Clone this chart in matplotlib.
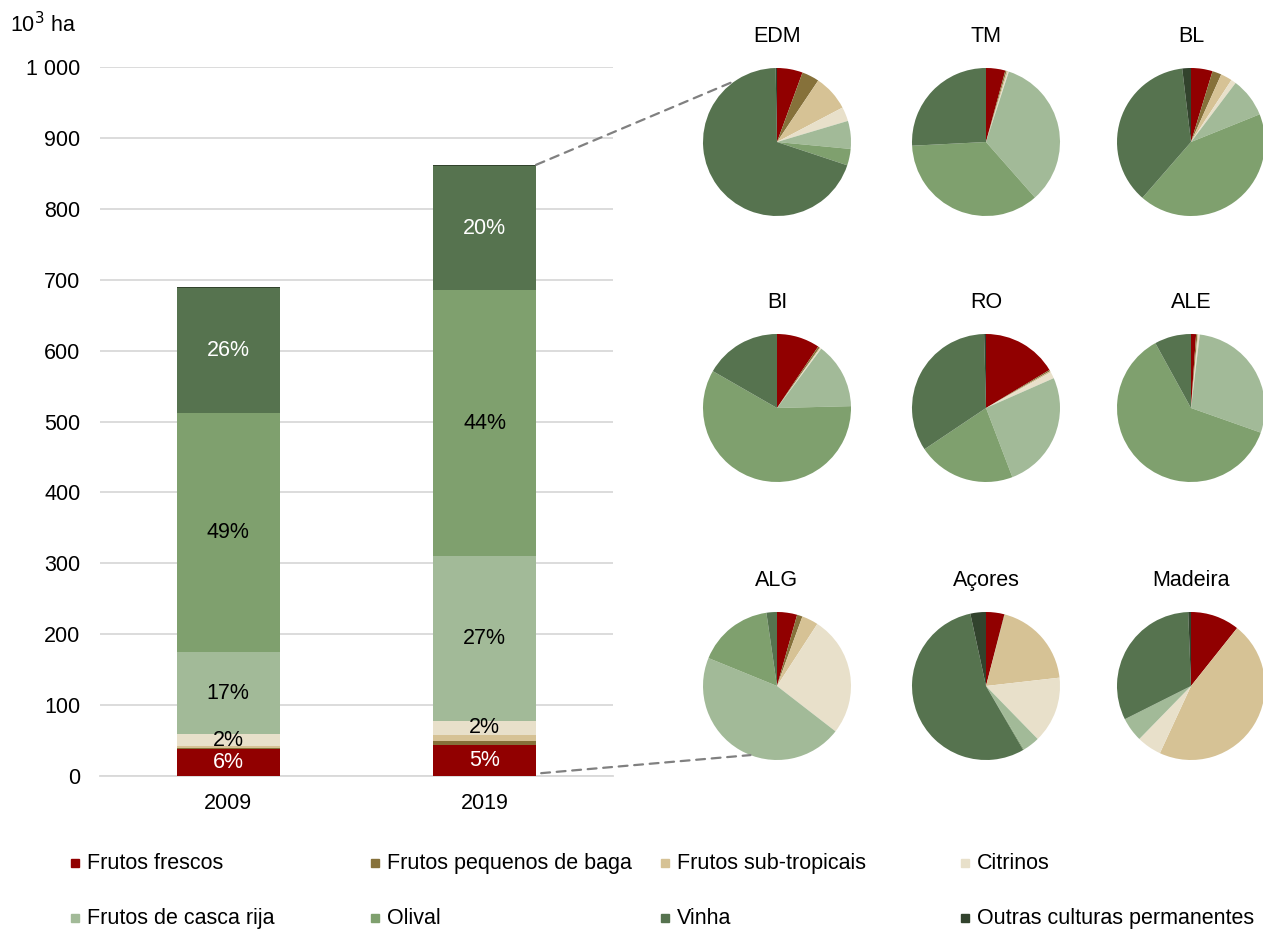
import numpy as np
import matplotlib
matplotlib.use("Agg")
import matplotlib.pyplot as plt
from matplotlib.patches import ConnectionPatch
from matplotlib.lines import Line2D

plt.rcParams['font.family'] = ['Liberation Sans', 'DejaVu Sans']

# ---------------- data ----------------
categories = ["Frutos frescos", "Frutos pequenos de baga", "Frutos sub-tropicais", "Citrinos",
              "Frutos de casca rija", "Olival", "Vinha", "Outras culturas permanentes"]
colors = ["#910000", "#86713A", "#D6C295", "#E8E0CA", "#A2BA98", "#7FA06E", "#56734F", "#32432D"]

years = ["2009", "2019"]
# thousand ha, per category (order as categories)
area_2009 = [38, 1, 3, 17, 116, 337, 176, 2]
area_2019 = [44, 6, 8, 20, 232, 375, 175, 2]
labels_2009 = ["6%", "", "", "2%", "17%", "49%", "26%", ""]
labels_2019 = ["5%", "", "", "2%", "27%", "44%", "20%", ""]
label_white = [True, False, False, False, False, False, True, False]

yticks = [0, 100, 200, 300, 400, 500, 600, 700, 800, 900, 1000]
ytick_labels = ["0", "100", "200", "300", "400", "500", "600", "700", "800", "900", "1 000"]

regions = ["EDM", "TM", "BL", "BI", "RO", "ALE", "ALG", "Açores", "Madeira"]
# % shares by region (order as categories), 2019
share_EDM = [5.6, 3.8, 7.9, 3.1, 6.1, 3.6, 69.6, 0.3]
share_TM = [4.2, 0.3, 0.3, 0.2, 33.5, 35.7, 25.8, 0.0]
share_BL = [4.7, 2.0, 2.5, 1.1, 8.6, 42.5, 36.7, 1.9]
share_BI = [9.4, 0.4, 0.2, 0.2, 14.4, 58.7, 16.7, 0.0]
share_RO = [16.4, 0.3, 0.3, 1.4, 25.8, 21.4, 34.0, 0.4]
share_ALE = [1.1, 0.3, 0.2, 0.3, 28.5, 61.6, 8.0, 0.0]
share_ALG = [4.4, 1.2, 3.6, 26.4, 45.8, 16.6, 2.3, 0.0]
share_ACO = [4.0, 0.1, 19.1, 14.5, 3.7, 0.2, 55.0, 3.4]
share_MAD = [10.7, 0.0, 46.2, 5.4, 5.3, 0.0, 31.8, 0.6]
shares = [share_EDM, share_TM, share_BL, share_BI, share_RO, share_ALE, share_ALG, share_ACO, share_MAD]

FS = 15.5

# ---------------- figure ----------------
W, H = 1263, 930
fig = plt.figure(figsize=(W / 100, H / 100), dpi=100)

# bar axes
x0, x1, yb, yt = 100, 613, 776, 67
ax = fig.add_axes([x0 / W, 1 - yb / H, (x1 - x0) / W, (yb - yt) / H])
xpos = np.arange(len(years))
data = [area_2009, area_2019]
labs = [labels_2009, labels_2019]
bottoms = np.zeros(len(years))
for i, cat in enumerate(categories):
    vals = np.array([data[0][i], data[1][i]], dtype=float)
    ax.bar(xpos, vals, 0.4, bottom=bottoms, color=colors[i], zorder=3)
    for j in range(len(years)):
        t = labs[j][i]
        if t:
            ax.text(xpos[j], bottoms[j] + vals[j] / 2, t, ha="center", va="center",
                    fontsize=FS, color="white" if label_white[i] else "black", zorder=4)
    bottoms += vals

ax.set_xlim(-0.5, 1.5)
ax.set_ylim(0, 1000)
ax.set_yticks(yticks)
ax.set_yticklabels(ytick_labels)
ax.set_xticks(xpos)
ax.set_xticklabels(years)
ax.tick_params(axis="both", length=0, labelsize=FS)
ax.tick_params(axis="y", pad=14)
ax.tick_params(axis="x", pad=12)
ax.grid(axis="y", color="#D9D9D9", linewidth=1.3, zorder=0)
for s in ["top", "right", "left"]:
    ax.spines[s].set_visible(False)
ax.spines["bottom"].set_color("#D9D9D9")
ax.spines["bottom"].set_linewidth(1.3)

fig.text(10 / W, 1 - 25 / H, "10$^3$ ha", fontsize=FS, ha="left", va="center")

# pie axes
centers_x = [777, 986, 1191]
centers_y = [142, 408, 686]
R = 74
pie_axes = []
for k, name in enumerate(regions):
    cx = centers_x[k % 3]
    cy = centers_y[k // 3]
    pax = fig.add_axes([(cx - R) / W, 1 - (cy + R) / H, 2 * R / W, 2 * R / H])
    pax.pie(shares[k], colors=colors, startangle=90, counterclock=False, radius=1,
            wedgeprops=dict(linewidth=0))
    pax.set_xlim(-1, 1)
    pax.set_ylim(-1, 1)
    pax.set_aspect("equal")
    pax.axis("off")
    pax.text(0, 1.42, name, ha="center", va="center", fontsize=FS, clip_on=False)
    pie_axes.append(pax)

# connector lines from 2019 bar to pies
total_2019 = sum(area_2019)
a_top = np.deg2rad(124)
a_bot = np.deg2rad(249)
con1 = ConnectionPatch(xyA=(1.2, total_2019), coordsA=ax.transData,
                       xyB=(np.cos(a_top), np.sin(a_top)), coordsB=pie_axes[0].transData,
                       color="#808080", linestyle=(0, (4, 3)), linewidth=1.6)
con2 = ConnectionPatch(xyA=(1.22, 4), coordsA=ax.transData,
                       xyB=(np.cos(a_bot), np.sin(a_bot)), coordsB=pie_axes[6].transData,
                       color="#808080", linestyle=(0, (4, 3)), linewidth=1.6)
fig.add_artist(con1)
fig.add_artist(con2)

# legend (manual, 2 rows x 4 columns)
leg_x = [75, 375, 665, 965]
leg_y = [863, 918]
for i, cat in enumerate(categories):
    lx = leg_x[i % 4]
    ly = leg_y[i // 4]
    fig.add_artist(Line2D([lx / W], [1 - ly / H], marker="s", markersize=5.5,
                          color=colors[i], linestyle="none", transform=fig.transFigure))
    fig.text((lx + 12) / W, 1 - ly / H, cat, fontsize=FS, ha="left", va="center")

fig.savefig("out.png", dpi=100, facecolor="white")
